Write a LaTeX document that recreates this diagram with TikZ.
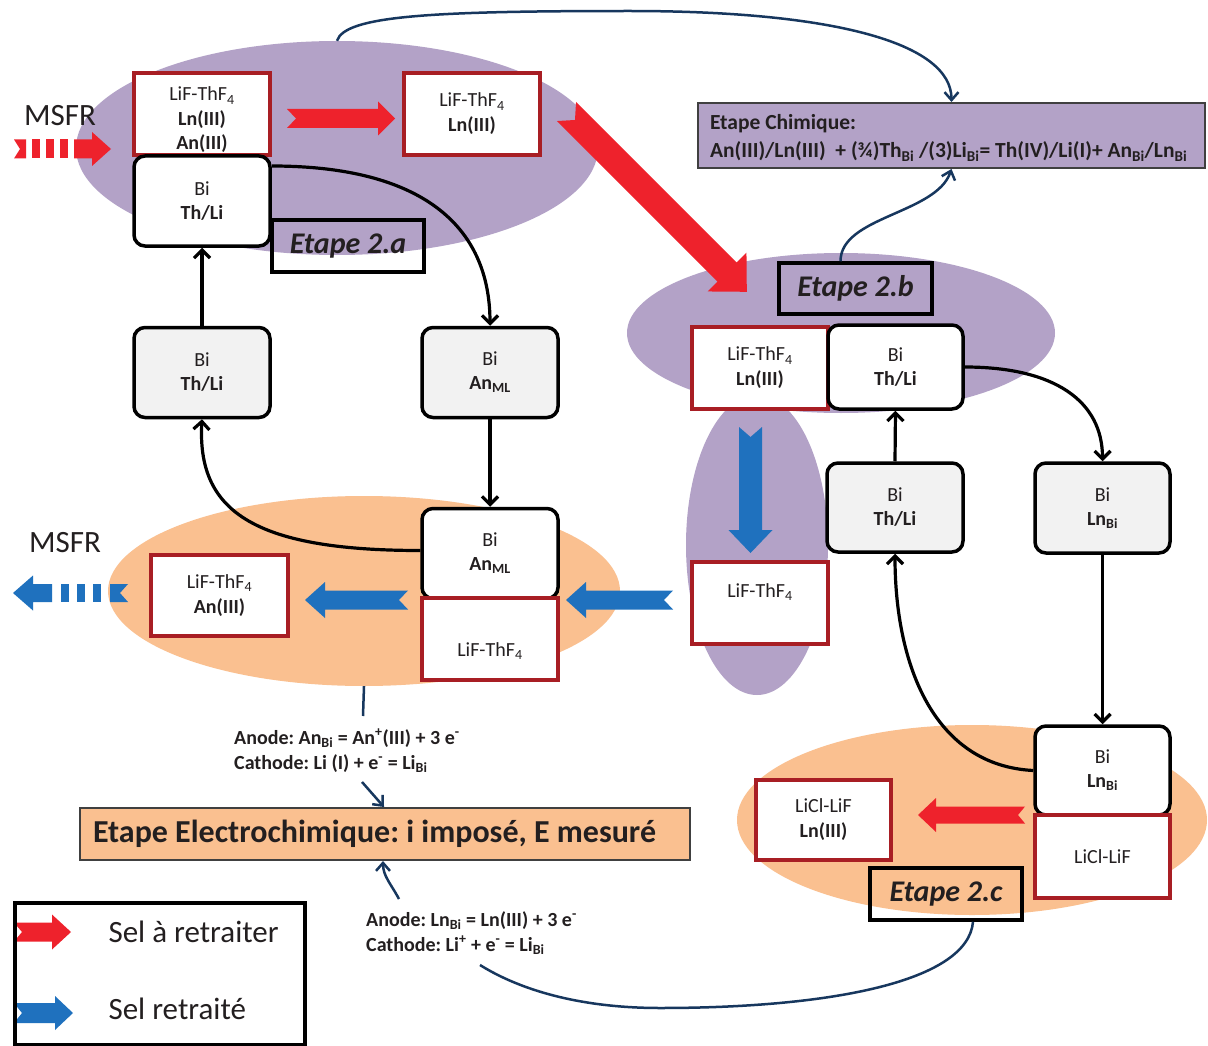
\documentclass[tikz,border=0pt]{standalone}
\usepackage{fontspec}
\setmainfont{Carlito}
\frenchspacing
\usetikzlibrary{shapes.geometric,arrows.meta,calc}
\definecolor{purp}{RGB}{179,162,199}
\definecolor{orng}{RGB}{250,192,144}
\definecolor{redar}{RGB}{238,34,44}
\definecolor{bluear}{RGB}{31,113,190}
\definecolor{boxred}{RGB}{168,30,36}
\definecolor{navy}{RGB}{23,55,94}
\definecolor{grayfill}{RGB}{242,242,242}
\definecolor{txt}{RGB}{35,31,32}
\definecolor{frame}{RGB}{64,64,64}
% block arrow: color, tail centre, angle, length, half body, half head, head length, notch
\newcommand{\barrow}[8]{\fill[#1,shift={#2},rotate=#3] (0,#5) -- ({#4-#7},#5) -- ({#4-#7},#6) -- (#4,0) -- ({#4-#7},-#6) -- ({#4-#7},-#5) -- (0,-#5) -- (#8,0) -- cycle;}
\begin{document}
\begin{tikzpicture}[x=1pt,y=-1pt,
  every node/.style={text=txt},
  redbox/.style={draw=boxred, line width=3.5, fill=white, minimum width=136, minimum height=82, align=flush center, inner sep=0, font=\fontsize{20}{25}\selectfont},
  bibox/.style={draw=black, line width=3.5, rounded corners=11, fill=white, minimum width=136, minimum height=90, align=flush center, inner sep=0, font=\fontsize{20}{24}\selectfont},
  bigray/.style={bibox, fill=grayfill},
  etapebox/.style={draw=black, line width=3.5, minimum width=152, minimum height=52, inner sep=0, font=\fontsize{30}{36}\selectfont\bfseries\itshape},
  conn/.style={line width=3.2, -{Straight Barb[length=8pt,width=16pt]}},
  nline/.style={navy, line width=2.5},
  nconn/.style={nline, -{Straight Barb[length=8pt,width=14pt]}},
  bigtxt/.style={font=\fontsize{31}{36}\selectfont},
  eqtxt/.style={anchor=north west, align=flush left, inner sep=0, font=\fontsize{20}{25}\selectfont\bfseries}
]
\fill[white] (0,0) rectangle (1208,1046);
\useasboundingbox (0,0) rectangle (1208,1046);

% background zones
\node[ellipse, fill=purp, minimum width=522, minimum height=214, inner sep=0] (eP1) at (337,148) {};
\node[ellipse, fill=purp, minimum width=428, minimum height=160, inner sep=0] (eP2) at (841,333) {};
\node[ellipse, fill=purp, minimum width=142, minimum height=300, inner sep=0] (eP3) at (757,545) {};
\node[ellipse, fill=orng, minimum width=512, minimum height=190, inner sep=0] (eO1) at (364,591) {};
\node[ellipse, fill=orng, minimum width=470, minimum height=190, inner sep=0] (eO2) at (972,820) {};

% red block arrows
\fill[redar] (14,139.5) -- (26,139.5) -- (26,158.5) -- (14,158.5) -- (20,149) -- cycle;
\fill[redar] (32,139.5) rectangle (40,158.5);
\fill[redar] (46,139.5) rectangle (54,158.5);
\fill[redar] (60,139.5) rectangle (68,158.5);
\barrow{redar}{(74,149)}{0}{37}{9.5}{17}{19}{0}
\barrow{redar}{(287,118.5)}{0}{108}{9.5}{17}{17}{9}
\barrow{redar}{(566.5,111.5)}{-45}{255}{13.5}{27.5}{28}{12}
\barrow{redar}{(1025,815)}{180}{107}{8.5}{17}{18}{7}
\barrow{redar}{(14,932)}{0}{57}{9.5}{17.5}{19}{8}

% blue block arrows
\barrow{bluear}{(750.5,427)}{-90}{126}{11.5}{22}{23}{10}
\barrow{bluear}{(673,600)}{180}{107}{9.5}{18}{20}{9}
\barrow{bluear}{(408,600)}{180}{103}{9.5}{18}{20}{9}
\barrow{bluear}{(52,593)}{180}{39}{9}{17.5}{20}{0}
\fill[bluear] (61,584) rectangle (69,602);
\fill[bluear] (77,584) rectangle (85,602);
\fill[bluear] (93,584) rectangle (101,602);
\fill[bluear] (110,584) -- (128,584) -- (120,593) -- (128,602) -- (110,602) -- cycle;
\barrow{bluear}{(14,1013)}{0}{59}{10}{17}{18}{8}

% boxes
\node[redbox] (A1) at (202,114) {};
\node[align=flush center, inner sep=0, font=\fontsize{20}{24.5}\selectfont] (A1t) at (202,120) {LiF-ThF\textsubscript{4}\\\textbf{Ln(III)}\\\textbf{An(III)}};
\node[bibox] (A2) at (202,201) {Bi\\\textbf{Th/Li}};
\node[redbox] (B) at (472,114) {LiF-ThF\textsubscript{4}\\\textbf{Ln(III)}};
\node[etapebox] (eta) at (348,246) {Etape 2.a};
\node[bigray] (C) at (202,372.5) {Bi\\\textbf{Th/Li}};
\node[bigray] (D) at (490,372.5) {Bi\\\textbf{An\textsubscript{ML}}};
\node[bibox] (E) at (490,553.5) {Bi\\\textbf{An\textsubscript{ML}}};
\node[redbox] (F) at (490,639) {\phantom{X}\\LiF-ThF\textsubscript{4}};
\node[redbox, minimum width=137, minimum height=81] (G) at (219.5,595.5) {LiF-ThF\textsubscript{4}\\\textbf{An(III)}};

\node[etapebox, minimum width=153, minimum height=51] (etb) at (855.5,288.5) {Etape 2.b};
\node[redbox] (H) at (760,368) {LiF-ThF\textsubscript{4}\\\textbf{Ln(III)}};
\node[bibox, minimum width=135, minimum height=84] (I) at (895.5,367) {Bi\\\textbf{Th/Li}};
\node[redbox] (J) at (760,603) {LiF-ThF\textsubscript{4}\\\phantom{X}};
\node[bigray, minimum height=89] (K) at (895,507.5) {Bi\\\textbf{Th/Li}};
\node[bigray, minimum width=135] (L) at (1102.5,508) {Bi\\\textbf{Ln\textsubscript{Bi}}};
\node[bibox, minimum width=135, minimum height=89] (M) at (1102.5,770.5) {Bi\\\textbf{Ln\textsubscript{Bi}}};
\node[redbox, minimum width=135, minimum height=83] (N) at (1102.5,856.5) {LiCl-LiF};
\node[redbox, minimum width=135, minimum height=80] (O) at (823.5,820) {LiCl-LiF\\\textbf{Ln(III)}};
\node[etapebox] (etc) at (946,894) {Etape 2.c};

% process boxes
\node[draw=frame, line width=2, fill=purp, minimum width=507, minimum height=65, text width=483, align=flush left, inner xsep=12, inner ysep=0, font=\fontsize{21.5}{28}\selectfont\bfseries] (chim) at (951.5,135.5) {\rule{0pt}{20pt}Etape Chimique:\\An(III)/Ln(III)\ \ + (¾)Th\textsubscript{Bi} /(3)Li\textsubscript{Bi}= Th(IV)/Li(I)+ An\textsubscript{Bi}/Ln\textsubscript{Bi}};
\node[draw=frame, line width=2, fill=orng, minimum width=610, minimum height=52, text width=584, align=flush left, inner xsep=13, inner ysep=0, font=\fontsize{32}{36}\selectfont\bfseries] (elec) at (385,834) {Etape Electrochimique: i imposé, E mesuré};

% texts
\node[bigtxt] (msfr1) at (60,116) {MSFR};
\node[bigtxt] (msfr2) at (65,543) {MSFR};
\node[eqtxt] (an1) at (234,729) {Anode: An\textsubscript{Bi} = An\textsuperscript{+}(III) + 3 e\textsuperscript{-}\\Cathode: Li (I) + e\textsuperscript{-} = Li\textsubscript{Bi}};
\node[eqtxt] (an2) at (366,911) {Anode: Ln\textsubscript{Bi} = Ln(III) + 3 e\textsuperscript{-}\\Cathode: Li\textsuperscript{+} + e\textsuperscript{-} = Li\textsubscript{Bi}};

% legend
\node[draw=black, line width=4, minimum width=290, minimum height=142, anchor=north west, inner sep=0] (leg) at (13,901) {};
\node[bigtxt, anchor=west] (leg1) at (105,932) {Sel à retraiter};
\node[bigtxt, anchor=west] (leg2) at (105,1009) {Sel retraité};

% black connectors
\draw[conn] (C.north) -- (A2.south);
\draw[conn] ([yshift=35pt]A2.east) .. controls +(150,0) and +(0,-100) .. (D.north);
\draw[conn] (D.south) -- (E.north);
\draw[conn] ([yshift=3pt]E.west) .. controls +(-170,0) and +(-5,90) .. (C.south);
\draw[conn] (I.east) .. controls +(90,0) and +(0,-60) .. (L.north);
\draw[conn] (L.south) -- (M.north);
\draw[conn] (M.west) .. controls +(-100,-5) and +(0,110) .. (K.south);
\draw[conn] (K.north) -- (I.south);

% navy connectors
\coordinate (tm) at (630,11);
\draw[nconn] (eP1.north) .. controls +(8,-25) and +(-200,0) .. (tm) .. controls +(200,0) and +(0,-60) .. (chim.north);
\draw[nconn] ([xshift=-15pt]etb.north) .. controls +(0,-45) and +(-15,45) .. (chim.south);
\coordinate (a1e) at (363,716);
\draw[nline] (eO1.south) -- (a1e);
\coordinate (a1s) at (362,782);
\draw[nconn] (a1s) -- ([xshift=-1pt]elec.north);
\coordinate (tb) at (660,1008);
\coordinate (tb2) at (480,965);
\draw[nline] ([xshift=27pt]etc.south) .. controls +(-5,60) and +(170,0) .. (tb) .. controls +(-80,0) and +(40,25) .. (tb2);
\coordinate (a2n) at (399,899);
\draw[nconn] (a2n) .. controls +(-8,-15) and +(0,15) .. ([xshift=-2pt]elec.south);
\end{tikzpicture}
\end{document}
